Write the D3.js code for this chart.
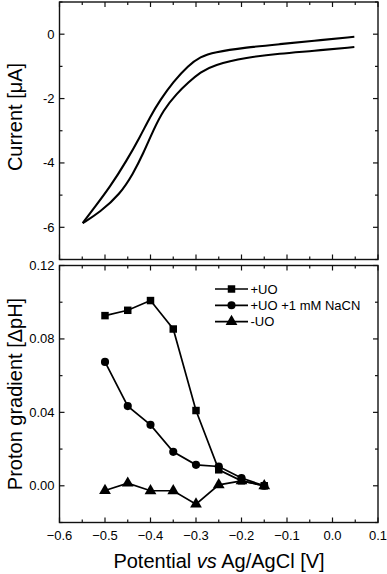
<!DOCTYPE html>
<html>
<head>
<meta charset="utf-8">
<script src="https://cdn.jsdelivr.net/npm/d3@7/dist/d3.min.js"></script>
<style>
  body { margin: 0; background: #fff; }
  text { font-family: "Liberation Sans", Arial, sans-serif; fill: #000; }
</style>
</head>
<body>
<div id="chart"></div>
<script>
// CV scan, forward and return branch: [potential V, current uA]
var cvUpper = [[-0.549,-5.87],[-0.525,-5.42],[-0.489,-4.75],[-0.452,-3.92],[-0.423,-3.19],
  [-0.401,-2.57],[-0.379,-2.05],[-0.350,-1.48],[-0.317,-0.97],[-0.290,-0.70],[-0.262,-0.56],
  [-0.189,-0.41],[-0.116,-0.31],[-0.043,-0.21],[0.048,-0.08]];
var cvLower = [[-0.549,-5.87],[-0.511,-5.53],[-0.467,-4.97],[-0.438,-4.33],[-0.416,-3.71],
  [-0.394,-2.99],[-0.372,-2.36],[-0.342,-1.84],[-0.317,-1.50],[-0.290,-1.18],[-0.262,-0.96],
  [-0.189,-0.72],[-0.116,-0.60],[-0.043,-0.52],[0.048,-0.40]];

// proton gradient data
var potentials = [-0.5, -0.45, -0.4, -0.35, -0.3, -0.25, -0.2, -0.15];
var withUO   = [0.0927, 0.0956, 0.1009, 0.0854, 0.041, 0.0087, 0.0027, 0.0];
var withCN   = [0.0675, 0.0434, 0.0332, 0.0185, 0.0114, 0.0105, 0.0042, 0.0];
var withoutUO = [-0.0026, 0.0014, -0.0027, -0.0027, -0.010, 0.0005, 0.0027, 0.0];
var seriesNames = ["+UO", "+UO +1 mM NaCN", "-UO"];

var xTicks = [-0.6, -0.5, -0.4, -0.3, -0.2, -0.1, 0.0, 0.1];
var topTicks = [0, -2, -4, -6];
var botTicks = [0.00, 0.04, 0.08, 0.12];

var W = 387, H = 574;
var left = 59.5, right = 378;

var svg = d3.select("#chart").append("svg")
  .attr("width", W).attr("height", H);

var x = d3.scaleLinear().domain([-0.6, 0.1]).range([left, right]);
var yTop = d3.scaleLinear().domain([-7, 1]).range([259.5, 2]);
var yBot = d3.scaleLinear().domain([-0.02, 0.12]).range([522.5, 265.5]);

// draw frame with inward ticks on all sides
function frame(y, majors, minors) {
  var g = svg.append("g");
  var y0 = y.range()[0], y1 = y.range()[1];
  g.append("rect")
    .attr("x", left).attr("y", y1)
    .attr("width", right - left).attr("height", y0 - y1)
    .attr("fill", "none").attr("stroke", "#111").attr("stroke-width", 1.4);

  var xs = d3.range(-0.6, 0.1001, 0.05);
  xs.forEach(function(v, i) {
    var len = i % 2 === 0 ? 5 : 3;
    g.append("line").attr("x1", x(v)).attr("x2", x(v))
      .attr("y1", y0).attr("y2", y0 - len)
      .attr("stroke", "#111").attr("stroke-width", 1.2);
    g.append("line").attr("x1", x(v)).attr("x2", x(v))
      .attr("y1", y1).attr("y2", y1 + len)
      .attr("stroke", "#111").attr("stroke-width", 1.2);
  });
  majors.forEach(function(v) {
    [[left, 5], [right, -5]].forEach(function(s) {
      g.append("line").attr("x1", s[0]).attr("x2", s[0] + s[1])
        .attr("y1", y(v)).attr("y2", y(v))
        .attr("stroke", "#111").attr("stroke-width", 1.2);
    });
  });
  minors.forEach(function(v) {
    [[left, 3], [right, -3]].forEach(function(s) {
      g.append("line").attr("x1", s[0]).attr("x2", s[0] + s[1])
        .attr("y1", y(v)).attr("y2", y(v))
        .attr("stroke", "#111").attr("stroke-width", 1.2);
    });
  });
  return g;
}

// ---- top panel
frame(yTop, [0, -2, -4, -6], [1, -1, -3, -5, -7]);

svg.selectAll(".tl").data(topTicks).enter().append("text")
  .attr("x", left - 5).attr("y", d => yTop(d) + 4.5)
  .attr("text-anchor", "end").attr("font-size", "13px")
  .text(d => String(d));

var cvLine = d3.line().x(d => x(d[0])).y(d => yTop(d[1])).curve(d3.curveBasis);
[cvUpper, cvLower].forEach(function(c) {
  svg.append("path").datum(c).attr("d", cvLine)
    .attr("fill", "none").attr("stroke", "#000").attr("stroke-width", 2.1);
});

svg.append("text")
  .attr("transform", "translate(22," + 117 + ") rotate(-90)")
  .attr("text-anchor", "middle").attr("font-size", "20px")
  .text("Current [\u03BCA]");

// ---- bottom panel
frame(yBot, [0, 0.04, 0.08, 0.12], [-0.02, 0.02, 0.06, 0.10]);

svg.selectAll(".bl").data(botTicks).enter().append("text")
  .attr("x", left - 5).attr("y", d => yBot(d) + 4.5)
  .attr("text-anchor", "end").attr("font-size", "13px")
  .text(d => d3.format(".2f")(d));

svg.selectAll(".xl").data(xTicks).enter().append("text")
  .attr("x", d => x(d)).attr("y", 540)
  .attr("text-anchor", "middle").attr("font-size", "13px")
  .text(d => d3.format(".1f")(d));

var series = [withUO, withCN, withoutUO];
var shapes = [d3.symbolSquare, d3.symbolCircle, d3.symbolTriangle];
var sizes = [56, 52, 60];
var pl = d3.line().x((d, i) => x(potentials[i])).y(d => yBot(d));

series.forEach(function(s, k) {
  svg.append("path").datum(s).attr("d", pl)
    .attr("fill", "none").attr("stroke", "#000").attr("stroke-width", 1.7);
  svg.selectAll(".m" + k).data(s).enter().append("path")
    .attr("transform", (d, i) => "translate(" + x(potentials[i]) + "," + yBot(d) + ")")
    .attr("d", d3.symbol().type(shapes[k]).size(sizes[k]))
    .attr("fill", "#000");
});

// legend
seriesNames.forEach(function(n, k) {
  var ly = 289 + k * 16.3;
  svg.append("line").attr("x1", 215).attr("x2", 248)
    .attr("y1", ly).attr("y2", ly)
    .attr("stroke", "#000").attr("stroke-width", 1.7);
  svg.append("path")
    .attr("transform", "translate(231.5," + ly + ")")
    .attr("d", d3.symbol().type(shapes[k]).size(sizes[k]))
    .attr("fill", "#000");
  svg.append("text").attr("x", 250.5).attr("y", ly + 4.8)
    .attr("font-size", "13px").text(n);
});

svg.append("text")
  .attr("transform", "translate(22," + 394 + ") rotate(-90)")
  .attr("text-anchor", "middle").attr("font-size", "20px")
  .text("Proton gradient [\u0394pH]");

var xt = svg.append("text")
  .attr("x", 219).attr("y", 568)
  .attr("text-anchor", "middle").attr("font-size", "20px");
xt.append("tspan").text("Potential ");
xt.append("tspan").attr("font-style", "italic").text("vs");
xt.append("tspan").text(" Ag/AgCl [V]");
</script>
</body>
</html>
